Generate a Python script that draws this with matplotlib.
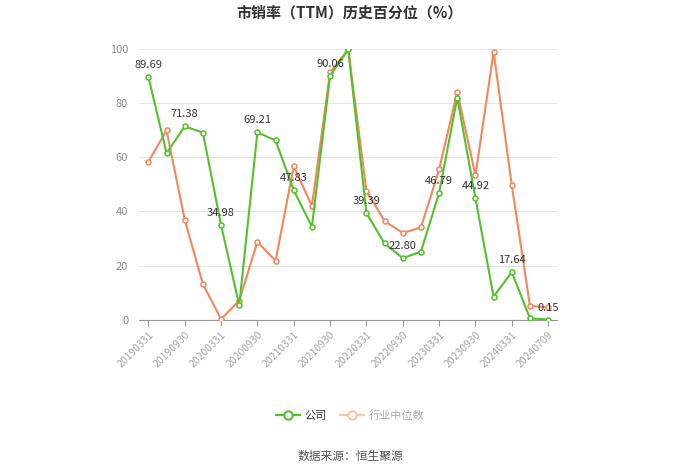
import matplotlib
matplotlib.use('Agg')
import matplotlib.pyplot as plt

plt.rcParams['font.family'] = ['Noto Sans CJK SC', 'DejaVu Sans']

dates = ['20190331', '20190630', '20190930', '20191231',
         '20200331', '20200630', '20200930', '20201231',
         '20210331', '20210630', '20210930', '20211231',
         '20220331', '20220630', '20220930', '20221231',
         '20230331', '20230630', '20230930', '20231231',
         '20240331', '20240630', '20240709']
company = [89.69, 61.5, 71.38, 69.1, 34.98, 5.4, 69.21, 66.2, 47.83, 34.4,
           90.06, 99.8, 39.39, 28.2, 22.80, 25.2, 46.79, 82.0, 44.92, 8.6,
           17.64, 0.6, 0.15]
industry = [58.4, 69.9, 37.0, 13.2, 0.3, 7.1, 28.8, 21.8, 56.7, 42.0,
            91.3, 99.8, 47.6, 36.5, 32.1, 34.1, 55.5, 84.1, 53.3, 98.9,
            49.7, 5.2, 4.6]

green = '#52c12a'
orange = '#f4865c'

fig = plt.figure(figsize=(7, 4.74), dpi=100)
ax = fig.add_axes([0.199, 0.325, 0.597, 0.572])

x = list(range(len(dates)))
ax.plot(x, industry, color=orange, lw=1.5, marker='o', ms=3.6,
        mfc='white', mec=orange, mew=1.1, label='行业中位数', zorder=3)
ax.plot(x, company, color=green, lw=1.5, marker='o', ms=3.6,
        mfc='white', mec=green, mew=1.1, label='公司', zorder=4)

for i in range(0, len(dates), 2):
    ax.annotate('%.2f' % company[i], (i, company[i]), xytext=(0, 5),
                textcoords='offset points', ha='center', va='bottom',
                fontsize=8, color='#333333', zorder=5)

ax.set_xlim(-0.5, len(dates) - 0.5)
ax.set_ylim(0, 100)
ax.set_yticks([0, 20, 40, 60, 80, 100])
ax.yaxis.grid(True, color='#e6e6e6', lw=0.8)
ax.set_axisbelow(True)
for s in ['top', 'right', 'left']:
    ax.spines[s].set_visible(False)
ax.spines['bottom'].set_color('#999999')
ax.tick_params(axis='y', length=0, labelsize=8, labelcolor='#8c8c8c', pad=8)
ax.set_xticks(x[::2])
ax.set_xticklabels(dates[::2], rotation=45, ha='right', rotation_mode='anchor',
                   fontsize=7.5, color='#a6a6a6')
ax.tick_params(axis='x', length=4, color='#999999', pad=3)

fig.text(0.5, 0.974, '市销率（TTM）历史百分位（%）', ha='center', va='center',
         fontsize=10.8, fontweight='bold', color='#333333')

h1, = ax.plot([], [], color=green, lw=1.6, marker='o', ms=6, mfc='white', mec=green, mew=1.5)
h2, = ax.plot([], [], color='#f9c4ac', lw=1.6, marker='o', ms=6, mfc='white', mec='#f9c4ac', mew=1.5)
leg = fig.legend([h1, h2], ['公司', '行业中位数'], loc='center', bbox_to_anchor=(0.5, 0.124),
                 ncol=2, frameon=False, fontsize=8, handlelength=2.2, columnspacing=1.2,
                 handletextpad=0.4)
leg.get_texts()[0].set_color('#333333')
leg.get_texts()[1].set_color('#aaaaaa')

fig.text(0.5, 0.036, '数据来源：恒生聚源', ha='center', va='center',
         fontsize=8.5, color='#555555')

fig.savefig('out.png', dpi=100)
